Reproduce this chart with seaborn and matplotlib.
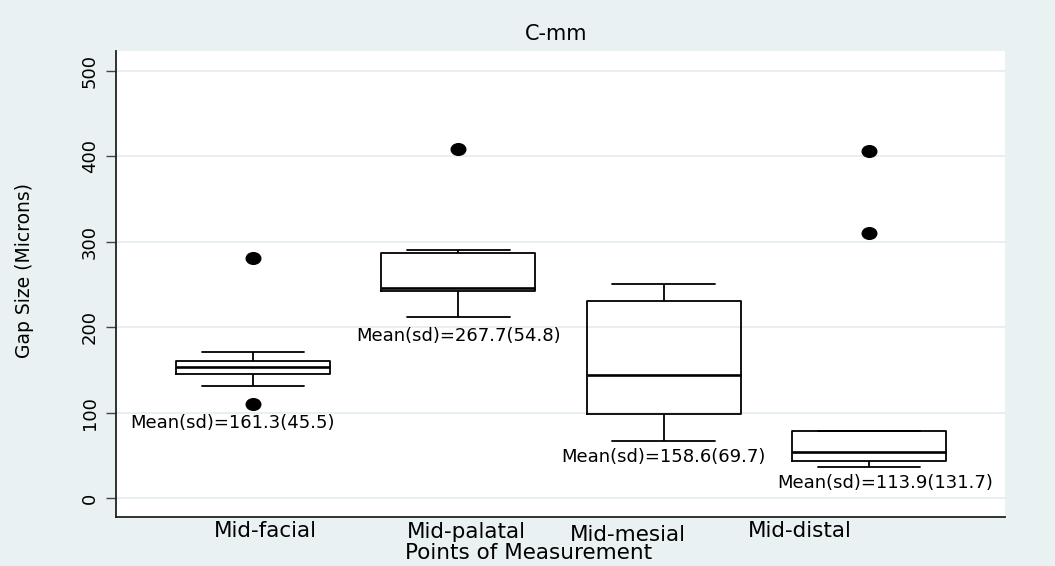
import numpy as np
import pandas as pd
import matplotlib
matplotlib.use("Agg")
import matplotlib.pyplot as plt
import matplotlib.transforms as mtransforms
from matplotlib.path import Path
import seaborn as sns

# ---- data ----
points = ["Mid-facial", "Mid-palatal", "Mid-mesial", "Mid-distal"]
mid_facial = [110, 131, 145, 149, 154, 157, 160, 171, 281]
mid_palatal = [212, 236, 242, 244, 246, 262, 287, 290, 408]
mid_mesial = [67, 82, 98, 120, 144, 190, 231, 240, 250]
mid_distal = [36, 40, 43, 48, 54, 66, 78, 310, 406]
mean_sd_labels = ["Mean(sd)=161.3(45.5)", "Mean(sd)=267.7(54.8)",
                  "Mean(sd)=158.6(69.7)", "Mean(sd)=113.9(131.7)"]
y_ticks = [0, 100, 200, 300, 400, 500]

# annotation placement (x in category units, y in microns)
label_x = [-0.10, 1.00, 2.00, 3.08]
label_y = [88, 190, 48, 18]

df = pd.DataFrame({
    "point": np.repeat(points, [len(mid_facial), len(mid_palatal),
                                len(mid_mesial), len(mid_distal)]),
    "gap": mid_facial + mid_palatal + mid_mesial + mid_distal,
})

sns.set_style("white")
plt.rcParams["font.family"] = ["DejaVu Sans"]
plt.rcParams["text.color"] = "black"
plt.rcParams["axes.labelcolor"] = "black"
plt.rcParams["xtick.color"] = "black"
plt.rcParams["ytick.color"] = "black"

BG = "#eaf1f3"
fig = plt.figure(figsize=(10.55, 5.66), dpi=100, facecolor=BG)
ax = fig.add_axes([116 / 1055, 1 - 517 / 566, (1005 - 116) / 1055, (517 - 51) / 566])
ax.set_facecolor("white")

# horizontal grid
for t in y_ticks:
    ax.axhline(t, color="#e6eef1", lw=1.3, zorder=0)

ell = Path.unit_circle().transformed(mtransforms.Affine2D().scale(1.0, 0.8))
sns.boxplot(
    data=df, x="point", y="gap", order=points, ax=ax,
    width=0.75, fill=False, color="black", linecolor="black", linewidth=1.3,
    capwidths=0.5,
    medianprops=dict(color="black", linewidth=1.9),
    flierprops=dict(marker=ell, markerfacecolor="black",
                    markeredgecolor="black", markersize=10.5),
)

for xx, yy, s in zip(label_x, label_y, mean_sd_labels):
    ax.text(xx, yy, s, ha="center", va="center", fontsize=13, color="black")

ax.set_xlim(-0.667, 3.663)
ax.set_ylim(-22, 523)
ax.set_yticks(y_ticks)
ax.set_yticklabels([str(t) for t in y_ticks], rotation=90, va="center",
                   fontsize=13)
ax.tick_params(axis="y", length=7.5, width=1.0, color="#444444",
               labelcolor="black", pad=5, left=True)
ax.tick_params(axis="x", length=0, pad=3, labelsize=15.5, labelcolor="black")

# shift category labels as in the reference
offsets_px = [(12, 0), (8, -1), (-36, -4), (-69, 0)]
for lab, (dx, dy) in zip(ax.get_xticklabels(), offsets_px):
    lab.set_transform(lab.get_transform() +
                      mtransforms.ScaledTranslation(dx / 100, dy / 100, fig.dpi_scale_trans))

for side in ["top", "right"]:
    ax.spines[side].set_visible(False)
for side in ["left", "bottom"]:
    ax.spines[side].set_color("#222222")
    ax.spines[side].set_linewidth(1.3)

ax.set_xlabel("Points of Measurement", fontsize=15.5, va="center", color="black")
ax.xaxis.set_label_coords((529 - 116) / 889, (517 - 553) / 466)
ax.set_ylabel("Gap Size (Microns)", fontsize=13.5, va="center", color="black")
ax.yaxis.set_label_coords((25 - 116) / 889, (517 - 271) / 466)

fig.text(556 / 1055, 1 - 34 / 566, "C-mm", ha="center", va="center",
         fontsize=15, color="black")

fig.savefig("out.png", dpi=100, facecolor=BG)
